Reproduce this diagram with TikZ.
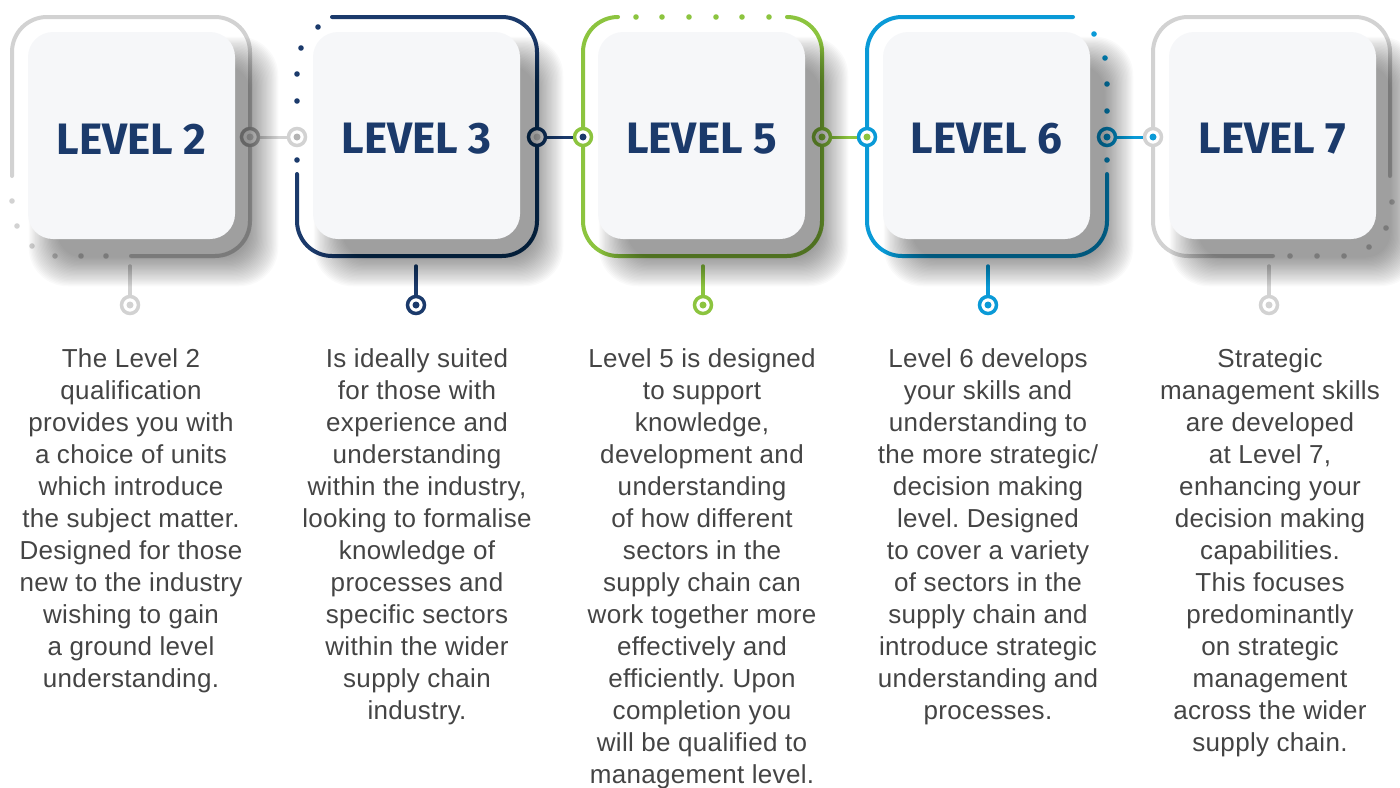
\documentclass[tikz,border=0pt]{standalone}
\usepackage{fontspec}
\setmainfont[LetterSpace=1.2]{Liberation Sans}
\newfontfamily\headfont{Fira Sans}
\frenchspacing
\definecolor{navy}{HTML}{1B3A6B}
\definecolor{lgreen}{HTML}{8CC43F}
\definecolor{lblue}{HTML}{0A9AD7}
\definecolor{lgray}{HTML}{D2D2D2}
\definecolor{mgray}{HTML}{B4B4B4}
\definecolor{txtgray}{HTML}{444444}
\definecolor{cardfill}{HTML}{F6F7F9}
\newcommand{\shadowat}[2]{%
  \foreach \i in {0,...,23}{%
    \fill[black, opacity=0.018, rounded corners={25pt+0.6pt*\i}]
      ({#1+22-96-1.25*\i},{#2+26-96-1.25*\i}) rectangle ({#1+22+96+1.25*\i},{#2+26+96+1.25*\i});
  }}
\begin{document}
\begin{tikzpicture}[x=1pt,y=-1pt,
  frame/.style={line width=4pt, line cap=round, rounded corners=35pt},
  ring/.style={circle, minimum size=17pt, inner sep=0pt, line width=3.5pt, fill=white},
  link/.style={line width=3pt},
  stem/.style={line width=3.5pt},
  card/.style={rectangle, rounded corners=25pt, minimum width=207pt, minimum height=207pt, fill=cardfill, inner sep=0pt},
  head/.style={font=\headfont\bfseries\fontsize{44}{44}\selectfont, text=navy, inner sep=0pt},
  desc/.style={anchor=north, align=center, inner sep=0pt, font=\fontsize{26}{32}\selectfont, text=txtgray}]
\useasboundingbox (0,0) rectangle (1400,787);

% frames
\draw[frame, lgray] (12,176) -- (12,17) -- (250,17) -- (250,256) -- (131,256);
\foreach \p in {(12,201),(17,226),(32,246),(55,256),(81,256),(106,256)} \fill[lgray] \p circle (2.8pt);
\draw[frame, navy] (332,17) -- (537,17) -- (537,256) -- (297,256) -- (297,174);
\foreach \p in {(318,27),(301,48),(297,74),(297,101),(297,160)} \fill[navy] \p circle (2.8pt);
\draw[frame, lgreen] (618,17) -- (583,17) -- (583,256) -- (822,256) -- (822,17) -- (787,17);
\foreach \p in {(636,17),(662,17),(689,17),(716,17),(742,17),(769,17)} \fill[lgreen] \p circle (2.8pt);
\draw[frame, lblue] (1073,17) -- (867,17) -- (867,256) -- (1107,256) -- (1107,174);
\foreach \p in {(1094,34),(1105,58),(1107,84),(1107,111),(1107,160)} \fill[lblue] \p circle (2.8pt);
\draw[frame, lgray] (1273,256) -- (1153,256) -- (1153,17) -- (1390,17) -- (1390,176);
\foreach \p in {(1392,202),(1386,228),(1369,247),(1344,256),(1317,256),(1290,256)} \fill[lgray] \p circle (2.8pt);

% connector rings
\node[ring, draw=mgray] (ra1) at (250,137) {};
\node[ring, draw=lgray] (rb2) at (297,137) {};
\node[ring, draw=navy] (ra2) at (537,137) {};
\node[ring, draw=lgreen] (rb3) at (583,137) {};
\node[ring, draw=lgreen] (ra3) at (822,137) {};
\node[ring, draw=lblue] (rb4) at (867,137) {};
\node[ring, draw=lblue] (ra4) at (1107,137) {};
\node[ring, draw=lgray] (rb5) at (1153,137) {};
\fill[lgray] (ra1.center) circle (3.5pt);
\fill[mgray] (rb2.center) circle (3.5pt);
\fill[lgray] (ra2.center) circle (3.5pt);
\fill[navy] (rb3.center) circle (3.5pt);
\fill[lgreen] (ra3.center) circle (3.5pt);
\fill[lgreen] (rb4.center) circle (3.5pt);
\fill[lblue] (ra4.center) circle (3.5pt);
\fill[lblue] (rb5.center) circle (3.5pt);
\draw[link, lgray] (ra1) -- (rb2);
\draw[link, navy] (ra2) -- (rb3);
\draw[link, lgreen] (ra3) -- (rb4);
\draw[link, lblue] (ra4) -- (rb5);

% stems
\foreach \x/\c/\n in {130/lgray/1,416/navy/2,703/lgreen/3,988/lblue/4,1269/lgray/5}{
  \coordinate (st\n) at (\x,266);
  \node[ring, draw=\c] (sb\n) at (\x,305) {};
  \fill[\c] (sb\n.center) circle (3.5pt);
  \draw[stem, \c, line cap=round] (st\n) -- (sb\n);
}

% shadows
\shadowat{131.5}{135.5}
\shadowat{416.5}{135.5}
\shadowat{701.5}{135.5}
\shadowat{986.5}{135.5}
\shadowat{1272.5}{135.5}

% cards
\node[card] (c1) at (131.5,135.5) {};
\node[card] (c2) at (416.5,135.5) {};
\node[card] (c3) at (701.5,135.5) {};
\node[card] (c4) at (986.5,135.5) {};
\node[card] (c5) at (1272.5,135.5) {};
\node[head, yshift=-3.5pt] (h1) at (c1.center) {LEVEL 2};
\node[head, yshift=-3.5pt] (h2) at (c2.center) {LEVEL 3};
\node[head, yshift=-3.5pt] (h3) at (c3.center) {LEVEL 5};
\node[head, yshift=-3.5pt] (h4) at (c4.center) {LEVEL 6};
\node[head, yshift=-3.5pt] (h5) at (c5.center) {LEVEL 7};

% descriptions
\node[desc] (t1) at (131,348) {The Level 2\\qualification\\provides you with\\a choice of units\\which introduce\\the subject matter.\\Designed for those\\new to the industry\\wishing to gain\\a ground level\\understanding.};
\node[desc] (t2) at (417,348) {Is ideally suited\\for those with\\experience and\\understanding\\within the industry,\\looking to formalise\\knowledge of\\processes and\\specific sectors\\within the wider\\supply chain\\industry.};
\node[desc] (t3) at (702,348) {Level 5 is designed\\to support\\knowledge,\\development and\\understanding\\of how different\\sectors in the\\supply chain can\\work together more\\effectively and\\efficiently. Upon\\completion you\\will be qualified to\\management level.};
\node[desc] (t4) at (988,348) {Level 6 develops\\your skills and\\understanding to\\the more strategic/\\decision making\\level. Designed\\to cover a variety\\of sectors in the\\supply chain and\\introduce strategic\\understanding and\\processes.};
\node[desc] (t5) at (1270,348) {Strategic\\management skills\\are developed\\at Level 7,\\enhancing your\\decision making\\capabilities.\\This focuses\\predominantly\\on strategic\\management\\across the wider\\supply chain.};
\end{tikzpicture}
\end{document}
